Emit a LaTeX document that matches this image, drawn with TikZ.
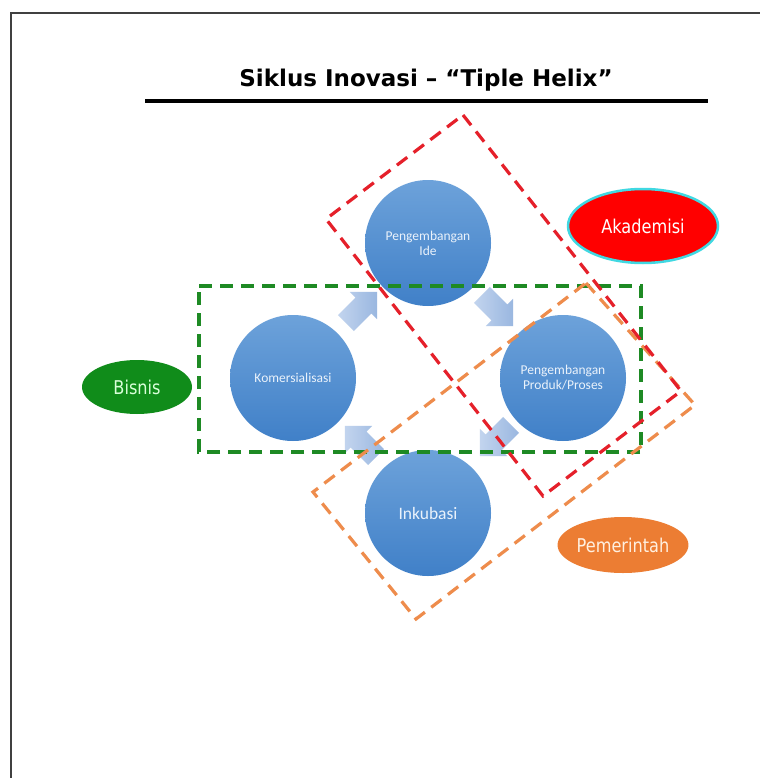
\documentclass[tikz,border=0pt]{standalone}
\usepackage{fontspec}
\setmainfont{DejaVu Sans}
\newfontfamily\tahfont[FakeStretch=0.85]{DejaVu Sans}
\newfontfamily\calibrifont{Carlito}
\usetikzlibrary{shapes.arrows,shapes.geometric,calc}
\definecolor{circtop}{HTML}{6DA2DA}
\definecolor{circbot}{HTML}{4080C8}
\definecolor{arrtop}{HTML}{C2D4EE}
\definecolor{arrbot}{HTML}{9AB7E0}
\definecolor{circtext}{HTML}{EAF2FB}
\definecolor{dred}{HTML}{E5202A}
\definecolor{dgreen}{HTML}{1E8A24}
\definecolor{dorange}{HTML}{EE8C4C}
\definecolor{akared}{HTML}{FF0000}
\definecolor{akaborder}{HTML}{40D8E2}
\definecolor{bisgreen}{HTML}{108C1A}
\definecolor{pemorange}{HTML}{EC7D33}
\tikzset{
  pagefrm/.style={draw=black!75,line width=1.5pt},
  titletext/.style={font=\bfseries\fontsize{23}{27}\selectfont,inner sep=0pt},
  bubble/.style={circle,minimum size=126pt,inner sep=0pt,top color=circtop,bottom color=circbot,
     text=circtext,align=center,font=\calibrifont\fontsize{13.5}{15}\selectfont},
  flowarrow/.style={single arrow,inner sep=11pt,single arrow head extend=8pt,minimum height=44pt,
     left color=arrtop,right color=arrbot,draw=none},
  dashbox/.style={line width=3.2pt,dash pattern=on 13pt off 8pt},
  role/.style={ellipse,inner sep=0pt,font=\tahfont\fontsize{19}{22}\selectfont}
}
\begin{document}
\begin{tikzpicture}[x=1pt,y=-1pt]
\useasboundingbox (0,0) rectangle (760,778);
\fill[white] (0,0) rectangle (760,778);
\coordinate (fbl) at (11,778);
\coordinate (ftl) at (11,13);
\coordinate (ftr) at (760,13);
\draw[pagefrm] (fbl) -- (ftl) -- (ftr);

\node[titletext,anchor=base] (title) at (426,87) {Siklus Inovasi – “Tiple Helix”};
\coordinate (rulel) at (145,101);
\coordinate (ruler) at (708,101);
\draw[line width=4pt] (rulel) -- (ruler);

\node[bubble] (ide) at (428,243) {Pengembangan\\Ide};
\node[bubble] (prod) at (563,378) {Pengembangan\\Produk/Proses};
\node[bubble] (kom) at (293,378) {Komersialisasi};
\node[bubble,font=\calibrifont\fontsize{17.5}{19}\selectfont] (ink) at (428,513) {Inkubasi};

\node[flowarrow,rotate=45] (a1) at ($(kom)!0.5!(ide)+(-3,1)$) {};
\node[flowarrow,rotate=-45] (a2) at ($(ide)!0.5!(prod)+(-2,-4)$) {};
\node[flowarrow,rotate=-135] (a3) at ($(prod)!0.5!(ink)+(4,-9)$) {};
\node[flowarrow,rotate=135] (a4) at ($(ink)!0.5!(kom)+(4,0)$) {};

\node[role,minimum width=150pt,minimum height=74pt,fill=akared,draw=akaborder,line width=2.5pt,text=white] (aka) at (643,226) {Akademisi};
\node[role,minimum width=110pt,minimum height=54pt,fill=bisgreen,text=green!15] (bis) at (137,387) {Bisnis};
\node[role,minimum width=124pt,minimum height=56pt,fill=pemorange,text=orange!12] (pem) at (623,545) {Pemerintah};

\coordinate (g1) at (199,286);
\coordinate (g2) at (641,286);
\coordinate (g3) at (641,452);
\coordinate (g4) at (199,452);
\draw[dashbox,draw=dgreen] (g1) -- (g2) -- (g3) -- (g4) -- cycle;

\coordinate (o1) at (586,283);
\coordinate (o2) at (695,405);
\coordinate (o3) at (416,619);
\coordinate (o4) at (313,492);
\draw[dashbox,draw=dorange] (o1) -- (o2) -- (o3) -- (o4) -- cycle;

\coordinate (r1) at (463,115);
\coordinate (r2) at (681,391);
\coordinate (r3) at (543,496);
\coordinate (r4) at (326,219);
\draw[dashbox,draw=dred] (r1) -- (r2) -- (r3) -- (r4) -- cycle;
\end{tikzpicture}
\end{document}
